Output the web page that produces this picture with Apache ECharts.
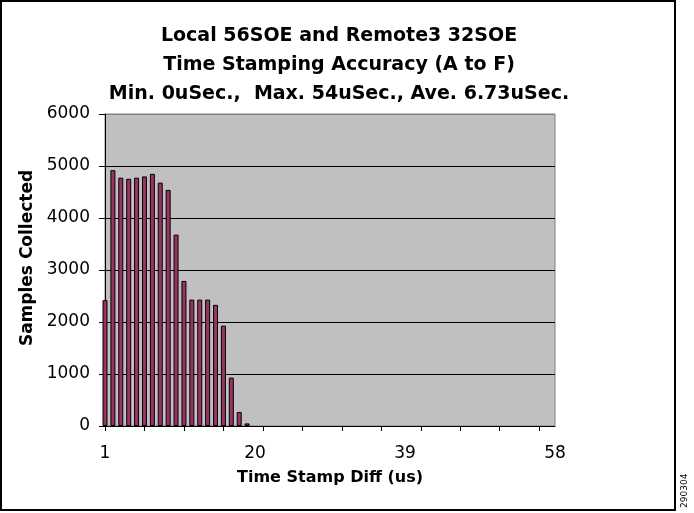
<!DOCTYPE html>
<html>
<head>
<meta charset="utf-8">
<script src="https://cdn.jsdelivr.net/npm/echarts@6/dist/echarts.min.js"></script>
<style>html,body{margin:0;padding:0;background:#fff;}#c{width:694px;height:513px;}</style>
</head>
<body>
<div id="c"></div>
<script>
var categories = [];
for (var i = 1; i <= 58; i++) categories.push(String(i));
var samples = [2420, 4920, 4775, 4755, 4775, 4800, 4850, 4680, 4540, 3680,
  2790, 2430, 2430, 2430, 2330, 1930, 930, 270, 50, 0,
  0, 0, 0, 0, 0, 0, 0, 0, 0, 0,
  0, 0, 0, 0, 0, 0, 0, 0, 0, 0,
  0, 0, 0, 0, 0, 0, 0, 0, 0, 0,
  0, 0, 0, 0, 0, 0, 0, 0];
var titleLines = ['Local 56SOE and Remote3 32SOE', 'Time Stamping Accuracy (A to F)', 'Min. 0uSec.,  Max. 54uSec., Ave. 6.73uSec.'];
var FONT = '"DejaVu Sans", "Liberation Sans", Arial, sans-serif';

var chart = echarts.init(document.getElementById('c'), null, {renderer: 'canvas'});
chart.setOption({
  animation: false,
  backgroundColor: '#fff',
  title: {
    text: titleLines.join('\n'),
    left: 334, top: 17, textAlign: 'center',
    textStyle: {fontFamily: FONT, fontSize: 19, fontWeight: 'bold', color: '#000', lineHeight: 29}
  },
  grid: {left: 105, right: 139, top: 114, bottom: 87, show: true,
    backgroundColor: '#c0c0c0', borderColor: '#808080', borderWidth: 1},
  xAxis: {
    type: 'category', data: categories, boundaryGap: false,
    name: 'Time Stamp Diff (us)', nameLocation: 'middle', nameGap: 44,
    nameTextStyle: {fontFamily: FONT, fontSize: 16, fontWeight: 'bold', color: '#000'},
    axisLine: {lineStyle: {color: '#000', width: 1}},
    axisTick: {show: true, length: 5, lineStyle: {color: '#000'},
      interval: function (idx) { return idx % 5 === 0; }},
    axisLabel: {fontFamily: FONT, fontSize: 17, color: '#000', margin: 19,
      interval: function (idx) { return idx % 19 === 0; }},
    splitLine: {show: false}
  },
  yAxis: {
    type: 'value', min: 0, max: 6000, interval: 1000,
    name: 'Samples Collected', nameLocation: 'middle', nameGap: 68,
    nameTextStyle: {fontFamily: FONT, fontSize: 17, fontWeight: 'bold', color: '#000', padding: [0, 0, 0, 24]},
    axisLine: {show: true, lineStyle: {color: '#000', width: 1}},
    axisTick: {show: true, length: 6, lineStyle: {color: '#000'}},
    axisLabel: {fontFamily: FONT, fontSize: 17, color: '#000', margin: 15, padding: [4, 0, 0, 0],
      formatter: function (v) { return String(v); }},
    splitLine: {show: true, lineStyle: {color: ['#000', '#000', '#000', '#000', '#000', '#000', '#808080'], width: 1}}
  },
  series: [{
    type: 'bar', barWidth: 5,
    data: samples.map(function (v) { return v === 0 ? null : v; }),
    itemStyle: {color: '#993366', borderColor: '#000', borderWidth: 1}
  }],
  graphic: [
    {type: 'rect', shape: {x: 1, y: 1, width: 674, height: 509},
      style: {fill: 'none', stroke: '#000', lineWidth: 2}, z: 100},
    {type: 'text', x: 680, y: 508, rotation: Math.PI / 2,
      style: {text: '290304', fontFamily: FONT, fontSize: 9, fill: '#000', textAlign: 'left', textVerticalAlign: 'top'}, z: 100}
  ]
});
</script>
</body>
</html>
